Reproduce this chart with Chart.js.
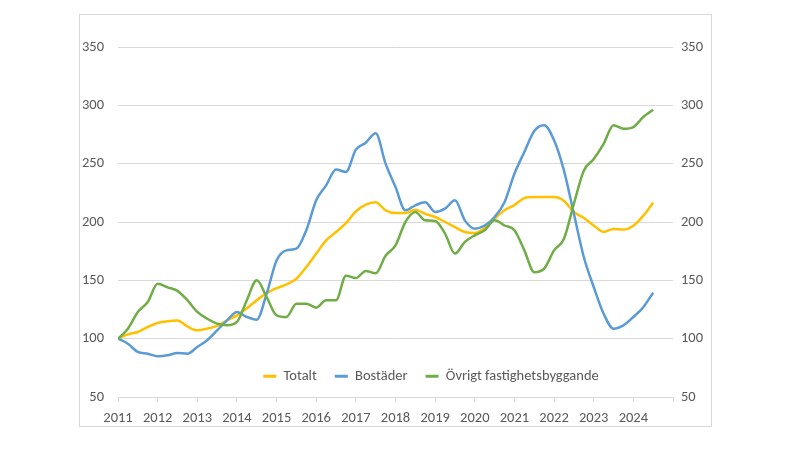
<!DOCTYPE html>
<html><head><meta charset="utf-8">
<script src="https://cdn.jsdelivr.net/npm/chart.js@4.4.1/dist/chart.umd.min.js"></script>
<style>
html,body{margin:0;padding:0;background:#fff;width:800px;height:453px;overflow:hidden}
#box{position:absolute;left:79px;top:14px;width:631px;height:411px;border:1px solid #d9d9d9}
canvas{display:block}
</style></head><body>
<div id="box"><canvas id="c" width="631" height="411"></canvas></div>
<script>
const quarters = [
 "2011Q1","2011Q2","2011Q3","2011Q4","2012Q1","2012Q2","2012Q3","2012Q4",
 "2013Q1","2013Q2","2013Q3","2013Q4","2014Q1","2014Q2","2014Q3","2014Q4",
 "2015Q1","2015Q2","2015Q3","2015Q4","2016Q1","2016Q2","2016Q3","2016Q4",
 "2017Q1","2017Q2","2017Q3","2017Q4","2018Q1","2018Q2","2018Q3","2018Q4",
 "2019Q1","2019Q2","2019Q3","2019Q4","2020Q1","2020Q2","2020Q3","2020Q4",
 "2021Q1","2021Q2","2021Q3","2021Q4","2022Q1","2022Q2","2022Q3","2022Q4",
 "2023Q1","2023Q2","2023Q3","2023Q4","2024Q1","2024Q2","2024Q3"
];
const seriesNames = ["Totalt","Bostäder","Övrigt fastighetsbyggande"];
const totalt = [
 100,103.7,105.7,110, 113.4,115,115.5,110.5, 107.2,108.6,110.9,115.7,
 120,126,133,139, 143.3,146.5,151.4,161.4, 172.9,184.3,191.4,199,
 209,214.9,217,210, 207.7,207.7,210.6,207, 204.3,200,195.7,191.4,
 190.6,195,202.9,210, 214.5,220.5,221.4,221.4, 221.4,218,208.6,203.5,
 197,191.5,194,193.5, 196.8,205.4,216.5
];
const bostader = [
 100,95.7,88.6,87.1, 84.9,85.7,87.7,87.1, 92.9,98.6,107.1,115.7,
 122.9,118.6,116.3,138.6, 167,175.7,177.1,193, 218.6,231.4,244.9,242.9,
 262,268,276,250, 230,210,214.3,217, 208.6,211.4,218.6,201.4,
 194.3,197,204.3,217, 241.4,260,278,283, 270,244,207,170,
 144.3,121.4,108.6,111.4, 118.6,127,139.5
];
const ovrigt = [
 100,108.6,122.9,131.4, 147,144,141,133, 122.9,117.1,112.9,111.4,
 114.3,133,150,135.7, 120,118.6,130,130, 126.6,132.9,132.9,154,
 152,158,156,171, 180,200,208.6,201.4, 200.9,190,172.9,182.9,
 188.6,192.9,201.4,197, 193,175.7,157,160, 175.7,185.7,215.7,244,
 254,267,283,280, 281.4,290,296.3
];
const yearTicks = [2011,2012,2013,2014,2015,2016,2017,2018,2019,2020,2021,2022,2023,2024];
const colors = ["#FFC000","#5B9BD5","#70AD47"];

const qx = q => parseInt(q.slice(0,4)) + (parseInt(q.slice(5)) - 1) / 4;
const toPts = arr => arr.map((v,i) => ({x: qx(quarters[i]), y: v}));
const FONT = "Carlito, 'Noto Sans', 'Open Sans', sans-serif";
const FSIZE = 14.5;
const TXT = "#595959";

const legendMover = {
  id: 'legendMover',
  afterLayout(chart) {
    const lg = chart.legend, ca = chart.chartArea;
    if (!lg) return;
    lg.left = ca.left + 71; lg.right = ca.right; lg.width = lg.right - lg.left;
    lg.top = 336; lg.bottom = lg.top + 45; lg.height = 45;
  }
};

const sets = [totalt, bostader, ovrigt].map((arr, i) => ({
  label: seriesNames[i],
  data: toPts(arr),
  borderColor: colors[i],
  backgroundColor: colors[i],
  borderWidth: 2.5,
  pointRadius: 0,
  cubicInterpolationMode: 'monotone',
  order: 3 - i
}));

new Chart(document.getElementById('c'), {
  type: 'line',
  data: { datasets: sets },
  plugins: [legendMover],
  options: {
    responsive: false,
    animation: false,
    layout: { padding: { top: 32, left: 0, right: 0, bottom: 0 } },
    plugins: {
      tooltip: { enabled: false },
      legend: {
        position: 'bottom',
        maxHeight: 1,
        labels: {
          color: TXT,
          font: { family: FONT, size: FSIZE },
          boxWidth: 13,
          boxHeight: 3,
          padding: 18,
          sort: (a, b) => a.datasetIndex - b.datasetIndex,
          generateLabels: (chart) => Chart.defaults.plugins.legend.labels.generateLabels(chart)
            .map(l => Object.assign(l, { lineWidth: 0, fillStyle: l.strokeStyle }))
        }
      }
    },
    scales: {
      x: {
        type: 'linear', min: 2011, max: 2025,
        afterBuildTicks: s => { s.ticks = yearTicks.concat([2025]).map(v => ({ value: v })); },
        ticks: {
          stepSize: 1, autoSkip: false, maxRotation: 0,
          color: TXT, font: { family: FONT, size: FSIZE }, padding: 8,
          callback: v => yearTicks.includes(v) ? String(v) : ''
        },
        grid: { drawOnChartArea: false, drawTicks: true, tickLength: 5, color: '#d9d9d9' },
        border: { display: true, color: '#d9d9d9' },
        afterFit: s => { s.height = 28; }
      },
      y: {
        position: 'left', min: 50, max: 350,
        ticks: { stepSize: 50, color: TXT, font: { family: FONT, size: FSIZE }, padding: 14 },
        grid: { color: '#d9d9d9', drawTicks: false },
        border: { display: false },
        afterFit: s => { s.width = 38; }
      },
      y2: {
        position: 'right', min: 50, max: 350,
        ticks: { stepSize: 50, color: TXT, font: { family: FONT, size: FSIZE }, padding: 8 },
        grid: { display: false, drawTicks: false },
        border: { display: false },
        afterFit: s => { s.width = 38; }
      }
    }
  }
});
</script>
</body></html>
